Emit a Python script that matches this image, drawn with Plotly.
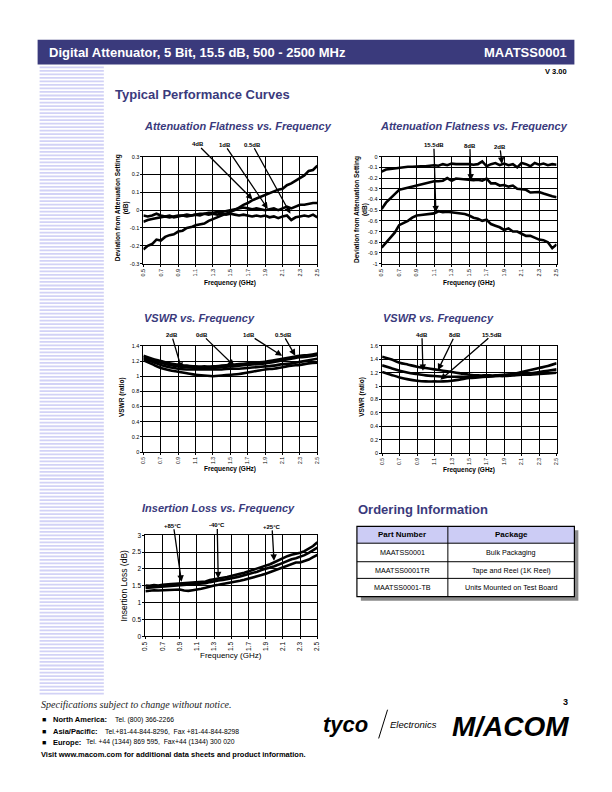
import plotly.graph_objects as go

W, H = 612, 792
FONT = "Liberation Sans, Arial, sans-serif"
SERIF = "Liberation Serif, Times New Roman, serif"
NAVY = "#3a3a7c"
LAV = "#d2d2f6"

# ---------------- data ----------------
freq_fine = [0.5, 0.55, 0.6, 0.65, 0.7, 0.75, 0.8, 0.85, 0.9, 0.95, 1.0, 1.05, 1.1, 1.15, 1.2, 1.25,
             1.3, 1.35, 1.4, 1.45, 1.5, 1.55, 1.6, 1.65, 1.7, 1.75, 1.8, 1.85, 1.9, 1.95, 2.0, 2.05,
             2.1, 2.15, 2.2, 2.25, 2.3, 2.35, 2.4, 2.45, 2.5]
freq_coarse = [0.5, 0.6, 0.7, 0.8, 0.9, 1.0, 1.1, 1.2, 1.3, 1.4, 1.5, 1.6, 1.7, 1.8, 1.9, 2.0,
               2.1, 2.2, 2.3, 2.4, 2.5]

# Attenuation flatness (left)
flat1_4db = [-0.22, -0.20, -0.19, -0.165, -0.17, -0.15, -0.14, -0.135, -0.12, -0.115,
             -0.10, -0.095, -0.085, -0.08, -0.075, -0.06, -0.05, -0.04, -0.03, -0.02,
             -0.01, 0.0, 0.015, 0.03, 0.04, 0.055, 0.065, 0.075, 0.085, 0.095,
             0.105, 0.115, 0.12, 0.14, 0.15, 0.165, 0.18, 0.195, 0.22, 0.225, 0.25]
flat1_1db = [-0.065, -0.055, -0.05, -0.045, -0.04, -0.035, -0.04, -0.035, -0.03, -0.03,
             -0.025, -0.03, -0.025, -0.02, -0.02, -0.015, -0.015, -0.01, -0.01, -0.005,
             0.0, 0.005, 0.01, 0.015, 0.01, 0.005, 0.01, 0.005, 0.0, 0.005,
             0.01, 0.0, 0.01, 0.02, 0.01, 0.02, 0.03, 0.03, 0.035, 0.04, 0.04]
flat1_05db = [-0.03, -0.035, -0.03, -0.02, -0.03, -0.035, -0.03, -0.04, -0.035, -0.03,
              -0.035, -0.03, -0.025, -0.03, -0.02, -0.025, -0.02, -0.025, -0.02, -0.025,
              -0.02, -0.025, -0.03, -0.025, -0.03, -0.035, -0.03, -0.035, -0.03, -0.04,
              -0.035, -0.045, -0.035, -0.03, -0.055, -0.04, -0.035, -0.03, -0.035, -0.025, -0.04]

# Attenuation flatness (right)
flat2_2db = [-0.14, -0.12, -0.115, -0.11, -0.1, -0.1, -0.095, -0.095, -0.09, -0.09,
             -0.09, -0.085, -0.08, -0.085, -0.07, -0.08, -0.065, -0.07, -0.07, -0.065,
             -0.07, -0.075, -0.07, -0.045, -0.09, -0.07, -0.06, -0.08, -0.065, -0.08,
             -0.07, -0.1, -0.06, -0.07, -0.09, -0.06, -0.075, -0.065, -0.08, -0.07, -0.075]
flat2_8db = [-0.49, -0.43, -0.39, -0.35, -0.31, -0.30, -0.29, -0.275, -0.27, -0.26,
             -0.25, -0.235, -0.23, -0.23, -0.225, -0.2, -0.225, -0.205, -0.21, -0.21,
             -0.215, -0.22, -0.215, -0.225, -0.205, -0.25, -0.25, -0.27, -0.265, -0.28,
             -0.27, -0.3, -0.305, -0.31, -0.335, -0.33, -0.33, -0.345, -0.36, -0.37, -0.38]
flat2_155db = [-0.85, -0.8, -0.75, -0.71, -0.64, -0.62, -0.6, -0.57, -0.55, -0.545,
               -0.54, -0.53, -0.53, -0.51, -0.52, -0.515, -0.52, -0.525, -0.53, -0.535,
               -0.55, -0.57, -0.58, -0.6, -0.59, -0.63, -0.645, -0.66, -0.685, -0.67,
               -0.7, -0.7, -0.72, -0.74, -0.74, -0.76, -0.775, -0.78, -0.8, -0.855, -0.82]

# VSWR (left)
vswr1_1db = [1.27, 1.23, 1.2, 1.17, 1.15, 1.14, 1.13, 1.13, 1.13, 1.14, 1.15, 1.16, 1.17, 1.18,
             1.19, 1.21, 1.23, 1.25, 1.27, 1.28, 1.30]
vswr1_05db = [1.25, 1.21, 1.18, 1.15, 1.13, 1.12, 1.11, 1.11, 1.11, 1.12, 1.13, 1.14, 1.15, 1.16,
              1.17, 1.19, 1.21, 1.23, 1.25, 1.26, 1.28]
vswr1_0db = [1.23, 1.19, 1.15, 1.12, 1.1, 1.09, 1.09, 1.09, 1.09, 1.09, 1.1, 1.1, 1.11, 1.12,
             1.13, 1.14, 1.16, 1.17, 1.19, 1.21, 1.23]
vswr1_2db = [1.21, 1.16, 1.11, 1.08, 1.06, 1.04, 1.02, 1.01, 1.0, 1.01, 1.02, 1.03, 1.05, 1.07,
             1.09, 1.1, 1.12, 1.14, 1.15, 1.17, 1.18]

# VSWR (right)
vswr2_4db = [1.44, 1.40, 1.35, 1.32, 1.29, 1.27, 1.25, 1.23, 1.21, 1.19, 1.17, 1.16, 1.16, 1.16,
             1.17, 1.18, 1.21, 1.24, 1.27, 1.30, 1.34]
vswr2_8db = [1.31, 1.27, 1.23, 1.20, 1.18, 1.16, 1.15, 1.14, 1.14, 1.14, 1.14, 1.14, 1.14, 1.15,
             1.16, 1.17, 1.18, 1.19, 1.21, 1.23, 1.25]
vswr2_155db = [1.21, 1.17, 1.13, 1.10, 1.08, 1.07, 1.07, 1.07, 1.08, 1.10, 1.12, 1.13, 1.14, 1.15,
               1.15, 1.16, 1.17, 1.17, 1.18, 1.19, 1.20]

# Insertion loss
il_hot = [1.51, 1.50, 1.52, 1.51, 1.53, 1.53, 1.55, 1.56, 1.57, 1.58,
          1.59, 1.60, 1.60, 1.61, 1.63, 1.67, 1.70, 1.72, 1.74, 1.76,
          1.80, 1.83, 1.86, 1.89, 1.93, 1.97, 2.02, 2.07, 2.11, 2.14,
          2.20, 2.26, 2.33, 2.38, 2.42, 2.44, 2.48, 2.53, 2.60, 2.68, 2.79]
il_room = [1.44, 1.45, 1.45, 1.46, 1.46, 1.48, 1.49, 1.50, 1.52, 1.53,
           1.54, 1.55, 1.56, 1.56, 1.58, 1.61, 1.64, 1.66, 1.67, 1.69,
           1.72, 1.75, 1.78, 1.81, 1.84, 1.88, 1.92, 1.97, 2.00, 2.04,
           2.08, 2.13, 2.19, 2.24, 2.29, 2.32, 2.36, 2.41, 2.48, 2.55, 2.63]
il_cold = [1.34, 1.36, 1.37, 1.36, 1.37, 1.38, 1.38, 1.38, 1.39, 1.36,
           1.35, 1.37, 1.38, 1.41, 1.44, 1.48, 1.51, 1.53, 1.55, 1.58,
           1.60, 1.63, 1.65, 1.68, 1.71, 1.74, 1.78, 1.82, 1.86, 1.91,
           1.96, 2.01, 2.06, 2.11, 2.16, 2.19, 2.19, 2.23, 2.28, 2.35, 2.42]

# tick labels
x_tickvals = [0.5, 0.7, 0.9, 1.1, 1.3, 1.5, 1.7, 1.9, 2.1, 2.3, 2.5]
x_ticktext = ["0.5", "0.7", "0.9", "1.1", "1.3", "1.5", "1.7", "1.9", "2.1", "2.3", "2.5"]
flat1_tickvals = [-0.3, -0.2, -0.1, 0, 0.1, 0.2, 0.3]
flat1_ticktext = ["-0.3", "-0.2", "-0.1", "0", "0.1", "0.2", "0.3"]
flat2_tickvals = [-1, -0.9, -0.8, -0.7, -0.6, -0.5, -0.4, -0.3, -0.2, -0.1, 0]
flat2_ticktext = ["-1", "-0.9", "-0.8", "-0.7", "-0.6", "-0.5", "-0.4", "-0.3", "-0.2", "-0.1", "0"]
vswr1_tickvals = [0, 0.2, 0.4, 0.6, 0.8, 1, 1.2, 1.4]
vswr1_ticktext = ["0", "0.2", "0.4", "0.6", "0.8", "1", "1.2", "1.4"]
vswr2_tickvals = [0, 0.2, 0.4, 0.6, 0.8, 1, 1.2, 1.4, 1.6]
vswr2_ticktext = ["0", "0.2", "0.4", "0.6", "0.8", "1", "1.2", "1.4", "1.6"]
il_tickvals = [0, 0.5, 1, 1.5, 2, 2.5, 3]
il_ticktext = ["0", "0.5", "1", "1.5", "2", "2.5", "3"]

order_parts = ["MAATSS0001", "MAATSS0001TR", "MAATSS0001-TB"]
order_pkgs = ["Bulk Packaging", "Tape and Reel (1K Reel)", "Units Mounted on Test Board"]


# ---------------- helpers ----------------
def px(x):
    return x / W


def py(y):
    return 1 - y / H


fig = go.Figure()
layout = dict(width=W, height=H, autosize=False, margin=dict(l=0, r=0, t=0, b=0),
              paper_bgcolor="white", plot_bgcolor="white", showlegend=False,
              font=dict(family=FONT, color="black"))

panels = [
    dict(xd=(141, 317), yd=(154, 262), yr=(-0.3, 0.3), tv=flat1_tickvals, tt=flat1_ticktext, fs=5.5, xfs=5.5,
         series=[(freq_fine, flat1_4db), (freq_fine, flat1_1db), (freq_fine, flat1_05db)], shape="linear"),
    dict(xd=(382, 559), yd=(154, 262), yr=(-1, 0), tv=flat2_tickvals, tt=flat2_ticktext, fs=5.5, xfs=5.5,
         series=[(freq_fine, flat2_2db), (freq_fine, flat2_8db), (freq_fine, flat2_155db)], shape="linear"),
    dict(xd=(141, 317), yd=(345, 452), yr=(0, 1.4), tv=vswr1_tickvals, tt=vswr1_ticktext, fs=5.5, xfs=5,
         series=[(freq_coarse, vswr1_1db), (freq_coarse, vswr1_05db), (freq_coarse, vswr1_0db),
                 (freq_coarse, vswr1_2db)], shape="spline"),
    dict(xd=(382.5, 559), yd=(345, 453), yr=(0, 1.6), tv=vswr2_tickvals, tt=vswr2_ticktext, fs=5.5, xfs=5,
         series=[(freq_coarse, vswr2_4db), (freq_coarse, vswr2_8db), (freq_coarse, vswr2_155db)],
         shape="spline"),
    dict(xd=(143, 317), yd=(536, 638), yr=(0, 3), tv=il_tickvals, tt=il_ticktext, fs=6.5, xfs=6.5,
         series=[(freq_fine, il_hot), (freq_fine, il_room), (freq_fine, il_cold)], shape="linear"),
]

for i, p in enumerate(panels):
    n = "" if i == 0 else str(i + 1)
    common = dict(showline=True, linecolor="black", linewidth=1, mirror=True, showgrid=True,
                  gridcolor="black", gridwidth=1, zeroline=False, ticks="outside",
                  tickcolor="black", tickwidth=1, fixedrange=True)
    layout["xaxis" + n] = dict(common, domain=[px(p["xd"][0]), px(p["xd"][1])], range=[0.5, 2.5],
                               tickvals=x_tickvals, ticktext=x_ticktext, tickangle=-90, ticklen=2,
                               tickfont=dict(family=FONT, size=p["xfs"], color="black"),
                               anchor="y" + n)
    layout["yaxis" + n] = dict(common, domain=[py(p["yd"][1]), py(p["yd"][0])], range=list(p["yr"]),
                               tickvals=p["tv"], ticktext=p["tt"], anchor="x" + n, ticklen=2,
                               tickfont=dict(family=FONT, size=p["fs"], color="black"))
    for xs, ys in p["series"]:
        fig.add_trace(go.Scatter(x=xs, y=ys, mode="lines", xaxis="x" + n, yaxis="y" + n,
                                 line=dict(color="black", width=2.6, shape=p["shape"]),
                                 hoverinfo="skip"))

annotations = []
shapes = []


def txt(x, y, s, size, color="black", bold=False, italic=False, xanchor="center", family=FONT,
        angle=0, yanchor="middle"):
    if bold:
        s = "<b>" + s + "</b>"
    if italic:
        s = "<i>" + s + "</i>"
    annotations.append(dict(x=px(x), y=py(y), xref="paper", yref="paper", text=s, showarrow=False,
                            xanchor=xanchor, yanchor=yanchor, textangle=angle, borderpad=0,
                            borderwidth=0, font=dict(family=family, size=size, color=color)))


def arrow(axis_n, x, y, label, ax, ay, size=6):
    annotations.append(dict(x=x, y=y, xref="x" + axis_n, yref="y" + axis_n, text="<b>" + label + "</b>",
                            showarrow=True, arrowhead=2, arrowsize=1, arrowwidth=1.3,
                            arrowcolor="black", ax=ax, ay=ay, standoff=0, borderpad=0,
                            font=dict(family=FONT, size=size, color="black")))


# header
shapes.append(dict(type="rect", xref="paper", yref="paper", x0=px(34), x1=px(577), y0=py(61), y1=py(36),
                   fillcolor=NAVY, line=dict(width=0), layer="below"))
txt(46, 48.5, "Digital Attenuator, 5 Bit, 15.5 dB, 500 - 2500 MHz", 13, "white", bold=True, xanchor="left")
txt(570, 48.5, "MAATSS0001", 13, "white", bold=True, xanchor="right")
txt(570, 68, "V 3.00", 7.5, bold=True, xanchor="right")

# left stripes
yy = 63.0
while yy < 695:
    shapes.append(dict(type="rect", xref="paper", yref="paper", x0=px(36), x1=px(101),
                       y0=py(yy + 1.8), y1=py(yy), fillcolor=LAV, line=dict(width=0), layer="below"))
    yy += 3.55

# section titles
txt(112, 91, "Typical Performance Curves", 13, NAVY, bold=True, xanchor="left")
txt(236.5, 123.5, "Attenuation Flatness vs. Frequency", 11, NAVY, bold=True, italic=True)
txt(475, 123.5, "Attenuation Flatness vs. Frequency", 11, NAVY, bold=True, italic=True)
txt(197.7, 316.7, "VSWR vs. Frequency", 11, NAVY, bold=True, italic=True)
txt(440, 316.7, "VSWR vs. Frequency", 11, NAVY, bold=True, italic=True)
txt(216.7, 508.3, "Insertion Loss vs. Frequency", 11, NAVY, bold=True, italic=True)
txt(358, 510, "Ordering Information", 13, NAVY, bold=True, xanchor="left")

# axis titles
txt(119.5, 206, "Deviation from Attenuation Setting<br>(dB)", 6.5, bold=True, angle=-90)
txt(361, 207, "Deviation from Attenuation Setting<br>(dB)", 6.5, bold=True, angle=-90)
txt(120, 397, "VSWR (ratio)", 6.5, bold=True, angle=-90)
txt(361.5, 396, "VSWR (ratio)", 6.5, bold=True, angle=-90)
txt(121, 587, "Insertion Loss (dB)", 8.5, angle=-90)
for cx, cy, fs, b in [(229, 281.5, 6.5, True), (470.7, 281.5, 6.5, True), (229, 469.5, 6.5, True),
                      (470.7, 470, 6.5, True), (230, 657, 8, False)]:
    txt(cx, cy, "Frequency (GHz)", fs, bold=b)

# curve labels with arrows
arrow("", 1.755, 0.06, "4dB", -55, -55)
arrow("", 1.93, 0.007, "1dB", -43, -64)
arrow("", 2.19, -0.02, "0.5dB", -38, -69)
arrow("2", 1.12, -0.52, "15.5dB", -2, -67)
arrow("2", 1.52, -0.224, "8dB", -1, -35)
arrow("2", 1.875, -0.068, "2dB", -2, -17)
arrow("3", 0.94, 1.094, "2dB", -10, -34)
arrow("3", 1.545, 1.137, "0dB", -32, -31)
arrow("3", 2.095, 1.269, "1dB", -33, -21)
arrow("3", 2.246, 1.269, "0.5dB", -12, -21)
arrow("4", 0.968, 1.228, "4dB", -1, -36)
arrow("4", 1.14, 1.238, "8dB", 17, -35)
arrow("4", 1.168, 1.095, "15.5dB", 52, -45)
arrow("5", 0.92, 1.62, "+85°C", -8, -56)
arrow("5", 1.347, 1.72, "-40°C", -1, -53)
arrow("5", 1.996, 2.24, "+25°C", -2, -34)

# ordering table
shapes.append(dict(type="rect", xref="paper", yref="paper", x0=px(361), x1=px(581), y0=py(602), y1=py(531),
                   fillcolor="#8a8a8a", line=dict(width=0)))
shapes.append(dict(type="rect", xref="paper", yref="paper", x0=px(357), x1=px(577), y0=py(598), y1=py(527),
                   fillcolor="white", line=dict(width=0)))
shapes.append(dict(type="rect", xref="paper", yref="paper", x0=px(357), x1=px(577), y0=py(544), y1=py(527),
                   fillcolor="#ccccf5", line=dict(width=0)))
for ly in [544, 562.7, 579.5]:
    shapes.append(dict(type="line", xref="paper", yref="paper", x0=px(357), x1=px(577), y0=py(ly), y1=py(ly),
                       line=dict(color="black", width=1)))
shapes.append(dict(type="line", xref="paper", yref="paper", x0=px(449), x1=px(449), y0=py(598), y1=py(527),
                   line=dict(color="black", width=1)))
shapes.append(dict(type="rect", xref="paper", yref="paper", x0=px(357), x1=px(577), y0=py(598), y1=py(527),
                   fillcolor="rgba(0,0,0,0)", line=dict(color="black", width=1.2)))
txt(403, 535.7, "Part Number", 8, bold=True)
txt(513, 535.7, "Package", 8, bold=True)
for k, (pn, pk) in enumerate(zip(order_parts, order_pkgs)):
    ry = [553.3, 571.1, 588.6][k]
    txt(403, ry, pn, 7.2)
    txt(513, ry, pk, 7.2)

# footer
txt(37, 707, "Specifications subject to change without notice.", 10, "#222", italic=True,
    xanchor="left", family=SERIF)
txt(568, 704, "3", 9, bold=True)
for fy, head, hx, body, bx in [(722, "North America:", 50, "Tel. (800) 366-2266", 112),
                               (733.5, "Asia/Pacific:", 50, "Tel.+81-44-844-8296,  Fax +81-44-844-8298", 102),
                               (745, "Europe:", 50, "Tel. +44 (1344) 869 595,  Fax+44 (1344) 300 020", 83)]:
    txt(38, fy, "■", 7, xanchor="left")
    txt(hx, fy, head, 7.5, bold=True, xanchor="left")
    txt(bx, fy, body, 6.8, xanchor="left")
txt(37, 757.5, "Visit www.macom.com for additional data sheets and product information.", 7.5,
    bold=True, xanchor="left")

# logos as text
txt(345, 727, "tyco", 22, bold=True, italic=True)
shapes.append(dict(type="line", xref="paper", yref="paper", x0=px(379), x1=px(388), y0=py(741), y1=py(712),
                   line=dict(color="black", width=1)))
txt(390, 727, "Electronics", 9.5, italic=True, xanchor="left")
txt(512, 729, "M/ACOM", 28, bold=True, italic=True)

layout["annotations"] = annotations
layout["shapes"] = shapes
fig.update_layout(**layout)

fig.write_html("out.html", post_script="document.body.style.margin='0px';",
               config={"displayModeBar": False})
